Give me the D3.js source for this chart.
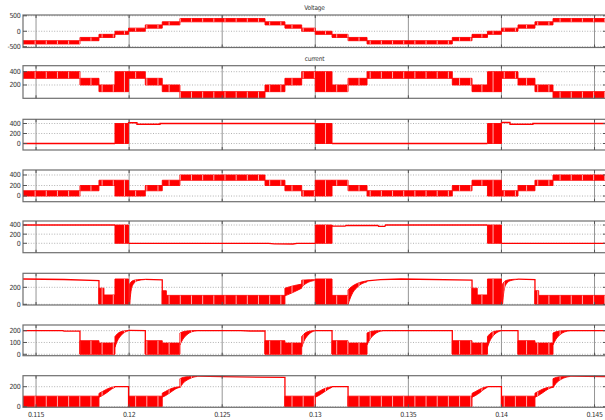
<!DOCTYPE html>
<html>
<head>
<meta charset="utf-8">
<script src="https://cdn.jsdelivr.net/npm/d3@7"></script>
<style>
  html, body { margin: 0; padding: 0; background: #fff; }
  svg { display: block; }
  text { font-family: "Liberation Sans Narrow", "DejaVu Sans Condensed", "Liberation Sans", Arial, sans-serif; fill: #333; }
</style>
</head>
<body>
<svg id="chart" width="605" height="420"></svg>
<script>
// ---- axis data ----
const xTicks = [0.115, 0.12, 0.125, 0.13, 0.135, 0.14, 0.145];
const xTickLabels = ["0.115", "0.12", "0.125", "0.13", "0.135", "0.14", "0.145"];
const xDomain = [0.11430, 0.14567];
const panelTitles = ["Voltage", "current", "", "", "", "", "", ""];
const yTicks = [[-500, 0, 500], [200, 400], [0, 200, 400], [0, 200, 400], [0, 200, 400], [0, 200], [0, 100, 200], [0, 200]];
const yDomains = [[-525, 525], [0, 490], [-130, 484], [-108, 495], [-206, 488], [-8, 365], [-12, 248], [-6, 310]];

// ---- series: switching bands [t0, t1, low, high], shaped fills [[t, low, high]...], lines [[t, v]...] ----
const voltageBands = [
  [0.11430, 0.11736, -410, -305], [0.11736, 0.11838, -305, -200], [0.11838, 0.11924, -200, -100],
  [0.11924, 0.11997, -100, 0], [0.11997, 0.12087, 0, 100], [0.12087, 0.12178, 100, 205],
  [0.12178, 0.12273, 205, 305], [0.12273, 0.12730, 305, 410], [0.12730, 0.12837, 205, 305],
  [0.12837, 0.12927, 100, 205], [0.12927, 0.13000, 0, 100], [0.13000, 0.13090, -100, 0],
  [0.13090, 0.13176, -200, -100], [0.13176, 0.13278, -305, -200], [0.13278, 0.13736, -410, -305],
  [0.13736, 0.13842, -305, -200], [0.13842, 0.13925, -200, -100], [0.13925, 0.14000, -100, 0],
  [0.14000, 0.14089, 0, 100], [0.14089, 0.14180, 100, 205], [0.14180, 0.14277, 205, 305],
  [0.14277, 0.14567, 305, 410]
];

const currentBands = [
  [0.11430, 0.11736, 300, 400], [0.11736, 0.11838, 200, 300], [0.11838, 0.11924, 100, 200],
  [0.11924, 0.11997, 100, 400], [0.11997, 0.12087, 300, 400], [0.12087, 0.12178, 200, 300],
  [0.12178, 0.12273, 100, 200], [0.12273, 0.12730, 0, 100], [0.12730, 0.12837, 100, 200],
  [0.12837, 0.12927, 200, 300], [0.12927, 0.13000, 300, 400], [0.13000, 0.13090, 100, 400],
  [0.13090, 0.13176, 100, 200], [0.13176, 0.13278, 200, 300], [0.13278, 0.13736, 300, 400],
  [0.13736, 0.13842, 200, 300], [0.13842, 0.13925, 100, 200], [0.13925, 0.14000, 100, 400],
  [0.14000, 0.14089, 300, 400], [0.14089, 0.14180, 200, 300], [0.14180, 0.14277, 100, 200],
  [0.14277, 0.14567, 0, 100]
];

const s3Bands = [[0.11924, 0.11997, 0, 400], [0.13000, 0.13090, 0, 400], [0.13925, 0.14000, 0, 400]];
const s3Lines = [
  [[0.11430, 0], [0.11924, 0]],
  [[0.11997, 400], [0.11997, 415], [0.12042, 415], [0.12042, 385], [0.12166, 385], [0.12166, 400], [0.13000, 400]],
  [[0.13090, 0], [0.13925, 0]],
  [[0.14000, 400], [0.14000, 420], [0.14046, 420], [0.14046, 385], [0.14169, 385], [0.14169, 400], [0.14567, 400]]
];

const s4Bands = [
  [0.11430, 0.11736, 0, 100], [0.11736, 0.11838, 100, 200], [0.11838, 0.11924, 200, 300],
  [0.11924, 0.11997, 0, 300], [0.11997, 0.12087, 0, 100], [0.12087, 0.12178, 100, 200],
  [0.12178, 0.12273, 200, 300], [0.12273, 0.12730, 300, 400], [0.12730, 0.12837, 200, 300],
  [0.12837, 0.12927, 100, 200], [0.12927, 0.13000, 0, 100], [0.13000, 0.13090, 0, 300],
  [0.13090, 0.13176, 200, 300], [0.13176, 0.13278, 100, 200], [0.13278, 0.13736, 0, 100],
  [0.13736, 0.13842, 100, 200], [0.13842, 0.13925, 200, 300], [0.13925, 0.14000, 0, 300],
  [0.14000, 0.14089, 0, 100], [0.14089, 0.14180, 100, 200], [0.14180, 0.14277, 200, 300],
  [0.14277, 0.14567, 300, 400]
];

const s5Bands = [[0.11924, 0.11997, 0, 400], [0.13000, 0.13090, 0, 400], [0.13925, 0.14000, 0, 400]];
const s5Lines = [
  [[0.11430, 400], [0.11924, 400]],
  [[0.11997, 0], [0.12750, 0], [0.12780, -13], [0.12880, -15], [0.12902, 0], [0.13000, 0]],
  [[0.13090, 400], [0.13090, 375], [0.13160, 375], [0.13165, 390], [0.13337, 390], [0.13340, 370], [0.13374, 370], [0.13378, 400], [0.13925, 400]],
  [[0.14000, 0], [0.14567, 0]]
];

const s6Bands = [
  [0.11838, 0.11865, 0, 190], [0.11865, 0.11924, 0, 110], [0.11924, 0.11997, 0, 298],
  [0.12178, 0.12200, 0, 160], [0.12200, 0.12837, 0, 105], [0.13000, 0.13090, 0, 298],
  [0.13090, 0.13176, 0, 105], [0.13842, 0.13870, 0, 190], [0.13870, 0.13925, 0, 110],
  [0.13925, 0.14000, 0, 298], [0.14180, 0.14200, 0, 160], [0.14200, 0.14567, 0, 105]
];
const s6Fills = [
  [[0.12003, 0, 238], [0.12010, 150, 262], [0.12022, 235, 280], [0.12045, 278, 290], [0.12087, 292, 294]],
  [[0.12837, 100, 190], [0.12860, 120, 205], [0.12890, 150, 222], [0.12927, 190, 238]],
  [[0.12927, 205, 284], [0.12950, 245, 287], [0.12975, 270, 289], [0.13000, 282, 290]],
  [[0.13176, 0, 170], [0.13195, 110, 208], [0.13225, 200, 245], [0.13278, 265, 276]],
  [[0.14006, 0, 238], [0.14013, 150, 262], [0.14025, 235, 280], [0.14048, 278, 291], [0.14089, 294, 296]]
];
const s6Lines = [
  [[0.11430, 298], [0.11650, 292], [0.11838, 280], [0.11838, 0]],
  [[0.12087, 294], [0.12178, 287], [0.12178, 0]],
  [[0.13278, 276], [0.13350, 290], [0.13460, 298], [0.13842, 285], [0.13842, 0]],
  [[0.14089, 296], [0.14180, 290], [0.14180, 0]]
];

const s7Bands = [
  [0.11736, 0.11838, 0, 115], [0.11838, 0.11924, 0, 95],
  [0.12087, 0.12178, 0, 115], [0.12178, 0.12273, 0, 95],
  [0.12730, 0.12837, 0, 115], [0.12837, 0.12927, 0, 95],
  [0.13090, 0.13176, 0, 115], [0.13176, 0.13278, 0, 95],
  [0.13736, 0.13842, 0, 115], [0.13842, 0.13925, 0, 95],
  [0.14089, 0.14180, 0, 115], [0.14180, 0.14277, 0, 95]
];
const s7Fills = [
  [[0.11924, 60, 150], [0.11936, 110, 172], [0.11954, 155, 190], [0.11974, 185, 198], [0.11997, 199, 202]],
  [[0.12273, 80, 180], [0.12288, 125, 190], [0.12310, 165, 197], [0.12335, 190, 200], [0.12365, 199, 201]],
  [[0.12927, 60, 150], [0.12939, 110, 172], [0.12957, 155, 190], [0.12977, 185, 198], [0.13000, 199, 202]],
  [[0.13278, 80, 180], [0.13293, 125, 190], [0.13315, 165, 197], [0.13340, 190, 200], [0.13364, 199, 201]],
  [[0.13925, 60, 150], [0.13937, 110, 172], [0.13955, 155, 190], [0.13976, 185, 198], [0.14000, 199, 202]],
  [[0.14277, 80, 180], [0.14292, 125, 190], [0.14314, 165, 197], [0.14340, 190, 200], [0.14368, 199, 201]]
];
const s7Lines = [
  [[0.11430, 200], [0.11645, 200], [0.11650, 196], [0.11736, 196], [0.11736, 0]],
  [[0.11997, 202], [0.12087, 200], [0.12087, 0]],
  [[0.12365, 201], [0.12600, 200], [0.12650, 197], [0.12730, 197], [0.12730, 0]],
  [[0.13000, 201], [0.13090, 200], [0.13090, 0]],
  [[0.13364, 201], [0.13736, 200], [0.13736, 0]],
  [[0.14000, 201], [0.14089, 200], [0.14089, 0]],
  [[0.14368, 201], [0.14567, 200]]
];

const s8Bands = [
  [0.11430, 0.11838, 0, 105], [0.11997, 0.12178, 0, 105], [0.12837, 0.13000, 0, 105],
  [0.13176, 0.13842, 0, 105], [0.14000, 0.14180, 0, 105]
];
const s8Fills = [
  [[0.11838, 95, 133], [0.11855, 110, 150], [0.11880, 140, 175], [0.11905, 175, 193], [0.11924, 195, 200]],
  [[0.12178, 95, 135], [0.12195, 110, 152], [0.12220, 140, 176], [0.12250, 178, 194], [0.12273, 195, 200]],
  [[0.12273, 190, 280], [0.12290, 235, 293], [0.12320, 275, 301], [0.12345, 295, 304], [0.12365, 302, 305]],
  [[0.13000, 95, 133], [0.13017, 110, 150], [0.13042, 140, 175], [0.13070, 175, 193], [0.13090, 195, 200]],
  [[0.13842, 95, 133], [0.13859, 110, 150], [0.13884, 140, 175], [0.13907, 175, 193], [0.13925, 195, 200]],
  [[0.14180, 95, 135], [0.14197, 110, 152], [0.14222, 140, 176], [0.14252, 178, 194], [0.14277, 195, 200]],
  [[0.14277, 190, 280], [0.14294, 235, 293], [0.14322, 275, 301], [0.14347, 295, 304], [0.14368, 302, 305]]
];
const s8Lines = [
  [[0.11924, 200], [0.11997, 200], [0.11997, 0]],
  [[0.12365, 305], [0.12500, 300], [0.12837, 293], [0.12837, 0]],
  [[0.13090, 200], [0.13176, 200], [0.13176, 0]],
  [[0.13925, 200], [0.14000, 200], [0.14000, 0]],
  [[0.14368, 305], [0.14567, 302]]
];

// ---- layout ----
const plotLeft = 23, plotRight = 607;
const panelTops = [15, 65.7, 119.3, 170, 221, 273.3, 325, 375.7];
const panelBottoms = [47.5, 98.3, 150, 201.7, 252.7, 305, 355.7, 407.3];
const red = "#ff0000";
const carrierPhase = 0.11495, carrierStep = 0.0006; // thin light seams of the PWM pattern

const series = [
  { bands: voltageBands, fills: [], lines: [] },
  { bands: currentBands, fills: [], lines: [] },
  { bands: s3Bands, fills: [], lines: s3Lines },
  { bands: s4Bands, fills: [], lines: [] },
  { bands: s5Bands, fills: [], lines: s5Lines },
  { bands: s6Bands, fills: s6Fills, lines: s6Lines },
  { bands: s7Bands, fills: s7Fills, lines: s7Lines },
  { bands: s8Bands, fills: s8Fills, lines: s8Lines }
];

const svg = d3.select("#chart");
svg.append("rect").attr("width", 605).attr("height", 420).attr("fill", "#fff");
const defs = svg.append("defs");

const x = d3.scaleLinear().domain(xDomain).range([plotLeft, plotRight]);

const seamTimes = [];
for (let t = carrierPhase; t < xDomain[1]; t += carrierStep) seamTimes.push(t);

series.forEach((s, i) => {
  const top = panelTops[i], bottom = panelBottoms[i];
  const y = d3.scaleLinear().domain(yDomains[i]).range([bottom, top]);
  const g = svg.append("g");

  defs.append("clipPath").attr("id", "panel" + i)
    .append("rect").attr("x", plotLeft).attr("y", top)
    .attr("width", plotRight - plotLeft).attr("height", bottom - top);

  // grid
  g.selectAll(".vg").data(xTicks).join("line")
    .attr("x1", d => x(d)).attr("x2", d => x(d)).attr("y1", top).attr("y2", bottom)
    .attr("stroke", "#959595").attr("stroke-width", 1);
  g.selectAll(".hg").data(yTicks[i]).join("line")
    .attr("x1", plotLeft).attr("x2", plotRight).attr("y1", d => y(d)).attr("y2", d => y(d))
    .attr("stroke", "#a0a0a0").attr("stroke-width", 0.8).attr("stroke-dasharray", "1,1.6");

  // data
  const dg = g.append("g").attr("clip-path", `url(#panel${i})`);
  const shapes = s.bands.map(b => [[b[0], b[2], b[3]], [b[1], b[2], b[3]]]).concat(s.fills);
  const area = d3.area().x(d => x(d[0])).y0(d => y(d[1])).y1(d => y(d[2])).curve(d3.curveMonotoneX);
  dg.selectAll(".band").data(shapes).join("path")
    .attr("d", area).attr("fill", red).attr("stroke", red).attr("stroke-width", 0.9)
    .attr("stroke-linejoin", "round");

  const bandClip = defs.append("clipPath").attr("id", "bands" + i);
  bandClip.selectAll("path").data(shapes).join("path").attr("d", area);
  dg.append("g").attr("clip-path", `url(#bands${i})`)
    .selectAll("line").data(seamTimes).join("line")
    .attr("x1", d => x(d)).attr("x2", d => x(d)).attr("y1", top).attr("y2", bottom)
    .attr("stroke", "#fff").attr("stroke-width", 0.8).attr("stroke-opacity", 0.85);

  const line = d3.line().x(d => x(d[0])).y(d => y(d[1]));
  dg.selectAll(".trace").data(s.lines).join("path")
    .attr("d", line).attr("fill", "none").attr("stroke", red).attr("stroke-width", 1.3);

  // box and ticks
  g.append("rect").attr("x", plotLeft).attr("y", top)
    .attr("width", plotRight - plotLeft).attr("height", bottom - top)
    .attr("fill", "none").attr("stroke", "#6e6e6e").attr("stroke-width", 1.2);
  yTicks[i].forEach(v => {
    g.append("line").attr("x1", plotLeft).attr("x2", plotLeft + 4).attr("y1", y(v)).attr("y2", y(v))
      .attr("stroke", "#555").attr("stroke-width", 1);
    g.append("line").attr("x1", plotRight - 4).attr("x2", plotRight).attr("y1", y(v)).attr("y2", y(v))
      .attr("stroke", "#555").attr("stroke-width", 1);
  });
  xTicks.forEach(t => {
    g.append("line").attr("x1", x(t)).attr("x2", x(t)).attr("y1", bottom).attr("y2", bottom - 3)
      .attr("stroke", "#555").attr("stroke-width", 1);
    g.append("line").attr("x1", x(t)).attr("x2", x(t)).attr("y1", top).attr("y2", top + 3)
      .attr("stroke", "#555").attr("stroke-width", 1);
  });

  g.selectAll(".yl").data(yTicks[i]).join("text")
    .attr("x", 20.5).attr("y", d => y(d)).attr("dy", "0.35em")
    .attr("text-anchor", "end").attr("font-size", 7).attr("letter-spacing", -0.3)
    .text(d => d);

  if (panelTitles[i]) {
    g.append("text").attr("x", (plotLeft + plotRight) / 2 - 0.5).attr("y", top - 5)
      .attr("text-anchor", "middle").attr("font-size", 6.5).attr("letter-spacing", -0.2)
      .text(panelTitles[i]);
  }

  if (i === series.length - 1) {
    g.selectAll(".xl").data(xTicks).join("text")
      .attr("x", d => x(d)).attr("y", 417)
      .attr("text-anchor", "middle").attr("font-size", 7).attr("letter-spacing", -0.4)
      .text((d, k) => xTickLabels[k]);
  }
});
</script>
</body>
</html>
